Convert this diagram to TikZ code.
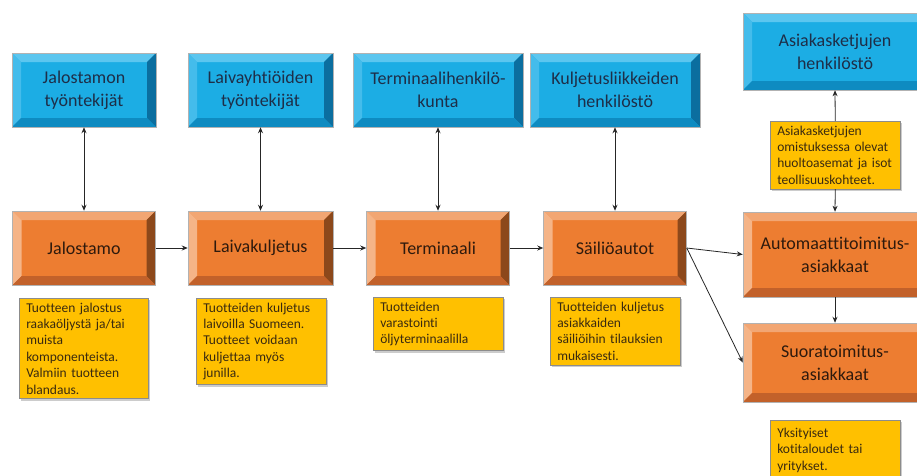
\documentclass[tikz,border=0pt]{standalone}
\usepackage{fontspec}
\setmainfont{Carlito}[Ligatures=NoCommon]
\usepackage{tikz}
\usetikzlibrary{arrows.meta,shadows}
\definecolor{blueface}{HTML}{1CADE4}
\definecolor{bluetop}{HTML}{5CC6EF}
\definecolor{blueleft}{HTML}{44BCEB}
\definecolor{blueright}{HTML}{0B6E9F}
\definecolor{bluebottom}{HTML}{0E8BC1}
\definecolor{bluetext}{HTML}{1E2E48}
\definecolor{orangeface}{HTML}{ED7D31}
\definecolor{orangetop}{HTML}{F2A673}
\definecolor{orangeleft}{HTML}{F5B487}
\definecolor{orangeright}{HTML}{8C481B}
\definecolor{orangebottom}{HTML}{C2612A}
\definecolor{orangetext}{HTML}{2E1A0D}
\definecolor{notefill}{HTML}{FFC000}
\definecolor{notetext}{HTML}{3A2A10}
\tikzset{bevel/.style n args={5}{fill=#1,path picture={
	\fill[#2] (path picture bounding box.north west) -- (path picture bounding box.north east)
		-- ([xshift=-9pt,yshift=-9pt]path picture bounding box.north east)
		-- ([xshift=9pt,yshift=-9pt]path picture bounding box.north west) -- cycle;
	\fill[#3] (path picture bounding box.north west) -- ([xshift=9pt,yshift=-9pt]path picture bounding box.north west)
		-- ([xshift=9pt,yshift=9pt]path picture bounding box.south west)
		-- (path picture bounding box.south west) -- cycle;
	\fill[#4] (path picture bounding box.north east) -- (path picture bounding box.south east)
		-- ([xshift=-9pt,yshift=9pt]path picture bounding box.south east)
		-- ([xshift=-9pt,yshift=-9pt]path picture bounding box.north east) -- cycle;
	\fill[#5] (path picture bounding box.south west) -- (path picture bounding box.south east)
		-- ([xshift=-9pt,yshift=9pt]path picture bounding box.south east)
		-- ([xshift=9pt,yshift=9pt]path picture bounding box.south west) -- cycle;
}}}
\tikzstyle{box}=[rectangle,draw=black!30,line width=0.5pt,inner sep=0pt,align=center,font=\fontsize{18}{23}\selectfont]
\tikzstyle{bluebox}=[box,text=bluetext,bevel={blueface}{bluetop}{blueleft}{blueright}{bluebottom}]
\tikzstyle{orangebox}=[box,text=orangetext,bevel={orangeface}{orangetop}{orangeleft}{orangeright}{orangebottom}]
\tikzstyle{notebox}=[rectangle,anchor=north west,fill=notefill,draw=black!45,line width=0.5pt,text=notetext,align=left,inner xsep=7pt,inner ysep=4.5pt,font=\fontsize{13.5}{16.4}\selectfont,drop shadow={shadow xshift=2pt,shadow yshift=-2pt,fill=black!40}]
\tikzstyle{edge}=[draw,black!85,line width=0.8pt,-{Stealth[length=6pt,width=5pt]}]
\tikzstyle{twoway}=[draw,black!85,line width=0.8pt,{Stealth[length=6pt,width=5pt]}-{Stealth[length=6pt,width=5pt]}]

\begin{document}
\begin{tikzpicture}[x=1pt,y=-1pt]
	\useasboundingbox (0,0) rectangle (917,475);
	% personnel
	\node[bluebox,minimum width=144pt,minimum height=74pt] (b1) at (84,90) {Jalostamon\\työntekijät};
	\node[bluebox,minimum width=145pt,minimum height=74pt] (b2) at (260.5,90) {Laivayhtiöiden\\työntekijät};
	\node[bluebox,minimum width=170pt,minimum height=74pt] (b3) at (438,90) {Terminaalihenkilö-\\kunta};
	\node[bluebox,minimum width=170pt,minimum height=74pt] (b4) at (615,90) {Kuljetusliikkeiden\\henkilöstö};
	\node[bluebox,minimum width=184pt,minimum height=77pt] (b5) at (835,51.5) {Asiakasketjujen\\henkilöstö};
	% supply chain
	\node[orangebox,minimum width=143pt,minimum height=74pt] (o1) at (84,248) {Jalostamo};
	\node[orangebox,minimum width=145pt,minimum height=74pt] (o2) at (260.5,248) {Laivakuljetus};
	\node[orangebox,minimum width=143pt,minimum height=74pt] (o3) at (438,248) {Terminaali};
	\node[orangebox,minimum width=143pt,minimum height=74pt] (o4) at (615,248) {Säiliöautot};
	\node[orangebox,minimum width=184pt,minimum height=85pt] (o5) at (835,254.5) {Automaattitoimitus-\\asiakkaat};
	\node[orangebox,minimum width=184pt,minimum height=79pt] (o6) at (835,362.5) {Suoratoimitus-\\asiakkaat};
	% descriptions
	\node[notebox,text width=115pt] (n1) at (19,298) {Tuotteen jalostus\\raakaöljystä ja/tai\\muista\\komponenteista.\\Valmiin tuotteen\\blandaus.};
	\node[notebox,text width=116pt] (n2) at (196,298) {Tuotteiden kuljetus\\laivoilla Suomeen.\\Tuotteet voidaan\\kuljettaa myös\\junilla.};
	\node[notebox,text width=116pt] (n3) at (373,297) {Tuotteiden\\varastointi\\öljyterminaalilla};
	\node[notebox,text width=116pt] (n4) at (550,297) {Tuotteiden kuljetus\\asiakkaiden\\säiliöihin tilauksien\\mukaisesti.};
	\node[notebox,text width=116pt] (n5) at (770,121) {Asiakasketjujen\\omistuksessa olevat\\huoltoasemat ja isot\\teollisuuskohteet.};
	\node[notebox,text width=116pt,minimum height=60pt] (n6) at (770,420) {Yksityiset\\kotitaloudet tai\\yritykset.\\[4pt]};
	% connections
	\path[twoway] (b1.south) -- (o1.north);
	\path[twoway] (b2.south) -- (o2.north);
	\path[twoway] (b3.south) -- (o3.north);
	\path[twoway] (b4.south) -- (o4.north);
	\path[edge] (o1.east) -- (o2.west);
	\path[edge] (o2.east) -- (o3.west);
	\path[edge] (o3.east) -- (o4.west);
	\path[edge] (o4.east) -- (o5.west);
	\path[edge] (o4.east) -- (o6.west);
	\path[edge] (n5.north) -- (b5.south);
	\path[edge] (n5.south) -- (o5.north);
	\path[edge] (o5.south) -- (o6.north);
\end{tikzpicture}
\end{document}
